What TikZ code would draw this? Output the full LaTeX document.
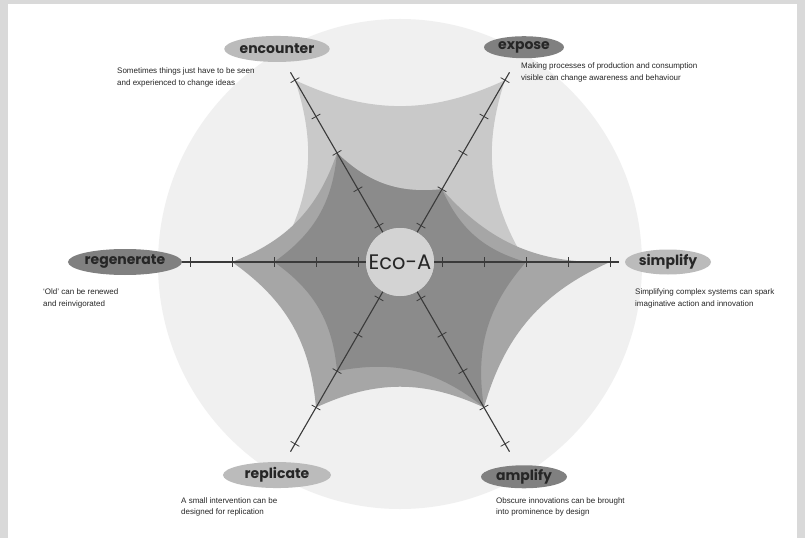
\documentclass[tikz,border=0pt]{standalone}
\usepackage{fontspec}
\setmainfont{Liberation Sans}
\newfontfamily\labelfont{Poppins}
\usetikzlibrary{shapes,positioning,calc}

\definecolor{frame}{HTML}{D9D9D9}
\definecolor{disc}{HTML}{F0F0F0}
\definecolor{lightstar}{HTML}{C9C9C9}
\definecolor{midstar}{HTML}{A6A6A6}
\definecolor{darkstar}{HTML}{8B8B8B}
\definecolor{hubgray}{HTML}{D3D3D3}
\definecolor{axisgray}{HTML}{3A3A3A}
\definecolor{palelabel}{HTML}{BBBBBB}
\definecolor{deeplabel}{HTML}{808080}

\tikzset{
  lab/.style={ellipse, inner sep=0pt, text=black!85,
    font=\labelfont\bfseries\fontsize{14}{14}\selectfont},
  note/.style={anchor=west, align=left, inner sep=0pt, text=black!85,
    font=\fontsize{8}{11.5}\selectfont},
  axisline/.style={axisgray, line width=1.1pt},
  tick/.style={axisgray, line width=0.8pt}
}

\begin{document}
\begin{tikzpicture}[x=1pt, y=1pt]
    % frame and page
    \fill[frame] (-400,-276) rectangle (405,262);
    \fill[white] (-392,-276) rectangle (397,258);
    \useasboundingbox (-400,-276) rectangle (405,262);

    % background disc
    \fill[disc] (0,-2) ellipse [x radius=242, y radius=245];

    % the three stars
    \fill[lightstar] (0:126) to[bend left=25] (60:210) to[bend left=25] (120:210)
        to[bend left=25] (180:126) to[bend left=25] (240:84)
        to[bend left=25] (300:84) to[bend left=25] (0:126) -- cycle;
    \fill[midstar] (0:210) to[bend left=25] (60:84) to[bend left=25] (120:126)
        to[bend left=25] (180:168) to[bend left=25] (240:168)
        to[bend left=25] (300:168) to[bend left=25] (0:210) -- cycle;
    \fill[darkstar] (0:126) to[bend left=25] (60:84) to[bend left=25] (120:126)
        to[bend left=25] (180:126) to[bend left=25] (240:126)
        to[bend left=25] (300:168) to[bend left=25] (0:126) -- cycle;

    % axes with ticks
    \node[circle, fill=hubgray, minimum size=68pt, inner sep=0pt] (hub) at (0,0) {};
    \foreach \a in {0,60,...,300} {
        \coordinate (end\a) at (\a:219);
        \draw[axisline] (hub) -- (end\a);
        \foreach \k in {1,...,5}
            \draw[tick, rotate=\a] (42*\k,-5) -- (42*\k,5);
    }
    \node[circle, fill=hubgray, minimum size=68pt, inner sep=0pt,
        font=\labelfont\fontsize{21}{21}\selectfont, text=black!85] at (hub) {Eco-A};

    % labels
    \node[lab, fill=palelabel, minimum width=96pt, minimum height=26pt] (encounter) at (120:246) {encounter};
    \node[lab, fill=deeplabel, minimum width=80pt, minimum height=22pt] (expose) at (60:248) {expose};
    \node[lab, fill=deeplabel, minimum width=106pt, minimum height=26pt] (regenerate) at (180:275) {regenerate};
    \node[lab, fill=palelabel, minimum width=86pt, minimum height=25pt] (simplify) at (0:268) {simplify};
    \node[lab, fill=palelabel, minimum width=108pt, minimum height=26pt] (replicate) at (240:246) {replicate};
    \node[lab, fill=deeplabel, minimum width=86pt, minimum height=23pt] (amplify) at (300:248) {amplify};

    % notes
    \node[note] (encnote) at (-283,184.5) {Sometimes things just have to be seen\\and experienced to change ideas};
    \node[note] (expnote) at (121,189.5) {Making processes of production and consumption\\visible can change awareness and behaviour};
    \node[note] (regnote) at (-357,-36.5) {`Old' can be renewed\\and reinvigorated};
    \node[note] (simnote) at (235,-36.5) {Simplifying complex systems can spark\\imaginative action and innovation};
    \node[note] (repnote) at (-219,-245) {A small intervention can be\\designed for replication};
    \node[note] (ampnote) at (96,-245) {Obscure innovations can be brought\\into prominence by design};
\end{tikzpicture}
\end{document}
